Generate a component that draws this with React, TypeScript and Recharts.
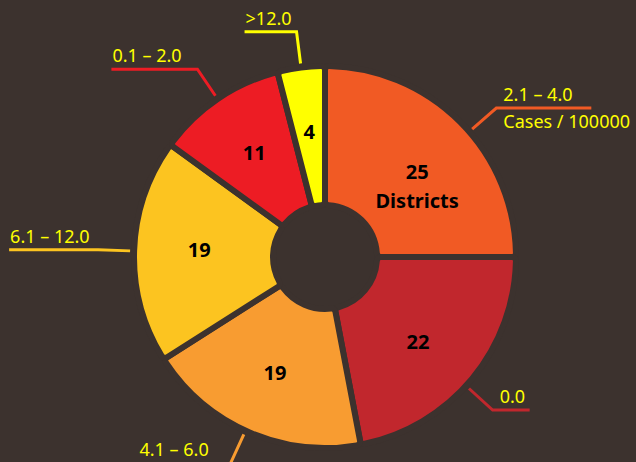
import { PieChart, Pie, Cell } from 'recharts';

const BG = '#3c322e';
const LABEL_COLOR = '#ffff00';
const FONT = '"Noto Sans", sans-serif';

// slices clockwise from 12 o'clock
const ranges = ['2.1 – 4.0', '0.0', '4.1 – 6.0', '6.1 – 12.0', '0.1 – 2.0', '>12.0'];
const districts = [25, 22, 19, 19, 11, 4];
const sliceColors = ['#f15a24', '#c1272d', '#f89c31', '#fcc420', '#ed1c24', '#ffff00'];

const data = ranges.map((range, i) => ({ range, value: districts[i] }));

const RADIAN = Math.PI / 180;
// horizontal part of each leader line, and small angle nudges (deg)
const leaderLength = [95, 37, 92, 89, 86, 52];
const leaderShift = [-4, -2.8, -1.2, 0, 0, 0];
const innerShift = [-2, -2.8, 0, -1.5, 0, 0];

const renderLabel = (props: any) => {
  const { cx, cy, midAngle, index, value } = props;
  const color = sliceColors[index];

  // value inside the slice
  const ia = (midAngle + innerShift[index]) * RADIAN;
  const ix = cx + 126 * Math.cos(ia);
  const iy = cy - 126 * Math.sin(ia);

  // leader line
  const la = (midAngle + leaderShift[index]) * RADIAN;
  const cos = Math.cos(la);
  const sin = Math.sin(la);
  const sx = cx + 195 * cos;
  const sy = cy - 195 * sin;
  const ex = cx + 227 * cos;
  const ey = cy - 227 * sin;
  const right = cos >= 0;
  const hx = ex + (right ? 1 : -1) * leaderLength[index];
  const tx = right ? ex + 7 : hx + 1;

  return (
    <g>
      <text
        x={ix}
        y={iy}
        textAnchor="middle"
        dominantBaseline="central"
        fill="#000"
        fontSize={20}
        fontWeight={700}
        fontFamily={FONT}
      >
        {value}
      </text>
      {index === 0 && (
        <text
          x={ix}
          y={iy + 29}
          textAnchor="middle"
          dominantBaseline="central"
          fill="#000"
          fontSize={20}
          fontWeight={700}
          fontFamily={FONT}
        >
          Districts
        </text>
      )}
      <polyline
        points={`${sx},${sy} ${ex},${ey} ${hx},${ey}`}
        fill="none"
        stroke={color}
        strokeWidth={3}
      />
      <text x={tx} y={ey - 7} fill={LABEL_COLOR} fontSize={18} fontFamily={FONT}>
        {ranges[index]}
      </text>
      {index === 0 && (
        <text x={tx} y={ey + 20} fill={LABEL_COLOR} fontSize={18} fontFamily={FONT}>
          Cases / 100000
        </text>
      )}
    </g>
  );
};

export default function App() {
  return (
    <div style={{ position: 'absolute', left: 0, top: 0, width: 636, height: 462, background: BG }}>
      <PieChart width={636} height={462} margin={{ top: 0, right: 0, bottom: 0, left: 0 }}>
        <Pie
          data={data}
          dataKey="value"
          nameKey="range"
          cx={325}
          cy={257}
          innerRadius={52}
          outerRadius={191}
          startAngle={90}
          endAngle={-270}
          stroke={BG}
          strokeWidth={6}
          cornerRadius={4}
          label={renderLabel}
          labelLine={false}
          isAnimationActive={false}
        >
          {data.map((d, i) => (
            <Cell key={d.range} fill={sliceColors[i]} />
          ))}
        </Pie>
      </PieChart>
    </div>
  );
}
